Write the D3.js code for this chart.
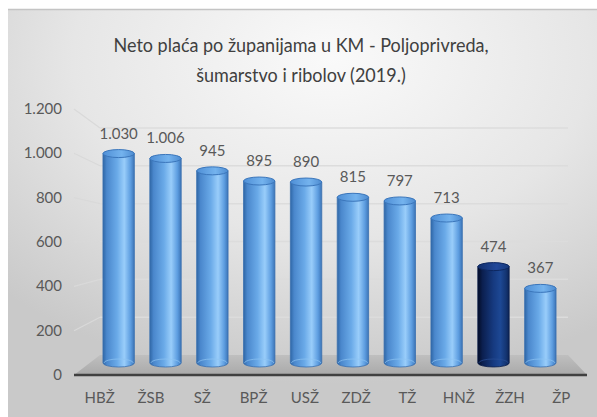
<!DOCTYPE html>
<html>
<head>
<meta charset="utf-8">
<script src="https://cdn.jsdelivr.net/npm/d3@7"></script>
<style>
  html, body { margin: 0; padding: 0; background: #ffffff; }
  svg { display: block; }
  text { font-family: Lato, "Liberation Sans", sans-serif; fill: #595959; }
</style>
</head>
<body>
<svg id="chart" width="597" height="417"></svg>
<script>
// Neto plaća po županijama (KM), 2019.
const categories = ["HBŽ", "ŽSB", "SŽ", "BPŽ", "USŽ", "ZDŽ", "TŽ", "HNŽ", "ŽZH", "ŽP"];
const values = [1030, 1006, 945, 895, 890, 815, 797, 713, 474, 367];
const tickValues = [0, 200, 400, 600, 800, 1000, 1200];
const highlighted = "ŽZH";
const titleLines = ["Neto plaća po županijama u KM - Poljoprivreda,", "šumarstvo i ribolov (2019.)"];

const W = 597, H = 417;
const svg = d3.select("#chart");
const defs = svg.append("defs");

const fmt = d3.formatLocale({ decimal: ",", thousands: ".", grouping: [3], currency: ["", ""] }).format(",d");

// Panel background
const bg = defs.append("radialGradient").attr("id", "bg")
  .attr("cx", "0.55").attr("cy", "0.12").attr("r", "0.8");
bg.append("stop").attr("offset", "0").attr("stop-color", "#fafafa");
bg.append("stop").attr("offset", "0.55").attr("stop-color", "#e6e6e6");
bg.append("stop").attr("offset", "1").attr("stop-color", "#c9c9c9");

svg.append("rect").attr("width", W).attr("height", H).attr("fill", "#ffffff");
svg.append("rect").attr("x", 8).attr("y", 9).attr("width", W - 8).attr("height", H - 9)
  .attr("fill", "url(#bg)");
svg.append("line").attr("x1", 8).attr("x2", W).attr("y1", 9.5).attr("y2", 9.5)
  .attr("stroke", "#c4c4c4").attr("stroke-width", 1.5);

// 3D frame: front plane, back wall and the plane the cylinders stand in
const maxV = 1200;
const front = { x0: 74, x1: 587 };
const back = { x0: 100, x1: 568 };
const yFront = d3.scaleLinear().domain([0, maxV]).range([375, 109]);
const yBack = d3.scaleLinear().domain([0, maxV]).range([355, 128]);
const yBar = d3.scaleLinear().domain([0, maxV]).range([363, 119]);

const xFront = d3.scaleBand().domain(categories).range([front.x0, front.x1]);
const xBar = d3.scaleBand().domain(categories).range([95, 564]).paddingInner(0.33).paddingOuter(0.17);

// Side wall and back wall gridlines
const grid = svg.append("g");
grid.selectAll("line.side").data(tickValues.filter(d => d > 0)).join("line")
  .attr("class", "side")
  .attr("x1", front.x0).attr("y1", d => yFront(d))
  .attr("x2", back.x0).attr("y2", d => yBack(d))
  .attr("stroke", "#d9d9d9").attr("stroke-width", 1.2);
grid.selectAll("line.back").data(tickValues.filter(d => d > 0)).join("line")
  .attr("class", "back")
  .attr("x1", back.x0).attr("y1", d => yBack(d))
  .attr("x2", back.x1).attr("y2", d => yBack(d))
  .attr("stroke", "#dcdcdc").attr("stroke-width", 1.5);

// Floor
const floorG = defs.append("linearGradient").attr("id", "floor")
  .attr("x1", 0).attr("y1", 0).attr("x2", 0).attr("y2", 1);
floorG.append("stop").attr("offset", "0").attr("stop-color", "#bfbfbf");
floorG.append("stop").attr("offset", "1").attr("stop-color", "#a9a9a9");
svg.append("polygon")
  .attr("points", [[front.x0, yFront(0)], [front.x1, yFront(0)], [back.x1, yBack(0)], [back.x0, yBack(0)]].join(" "))
  .attr("fill", "url(#floor)");

// Cylinder shading
function cylGrad(id, stops) {
  const g = defs.append("linearGradient").attr("id", id)
    .attr("x1", 0).attr("y1", 0).attr("x2", 1).attr("y2", 0);
  stops.forEach(([o, c]) => g.append("stop").attr("offset", o).attr("stop-color", c));
}
cylGrad("cylBlue", [[0, "#2f67a6"], [0.12, "#4a87cc"], [0.45, "#6aaae8"], [0.68, "#99cdfa"], [0.88, "#5d9de0"], [1, "#3c74b6"]]);
cylGrad("cylNavy", [[0, "#030c26"], [0.15, "#0b1f4f"], [0.5, "#163a80"], [0.72, "#1d4894"], [0.9, "#143572"], [1, "#0c2354"]]);
cylGrad("capBlue", [[0, "#4f8fd6"], [0.6, "#74b3ee"], [1, "#4d8bd0"]]);
cylGrad("capNavy", [[0, "#122f6c"], [0.6, "#21489a"], [1, "#163a7c"]]);

const bars = categories.map((c, i) => ({ cat: c, value: values[i] }));
const rx = xBar.bandwidth() / 2, ry = 4;

const cyl = svg.append("g").selectAll("g").data(bars).join("g");
cyl.append("path")
  .attr("d", d => {
    const cx = xBar(d.cat) + rx, top = yBar(d.value), base = yBar(0);
    return `M${cx - rx},${top} L${cx - rx},${base} A${rx},${ry} 0 0 0 ${cx + rx},${base} L${cx + rx},${top} Z`;
  })
  .attr("fill", d => d.cat === highlighted ? "url(#cylNavy)" : "url(#cylBlue)")
  .attr("stroke", d => d.cat === highlighted ? "#0a1d4a" : "#3a70b0")
  .attr("stroke-width", 0.8);
// back rim of the base, seen through the glassy body
cyl.append("path")
  .attr("d", d => {
    const cx = xBar(d.cat) + rx, base = yBar(0);
    return `M${cx - rx + 1},${base} A${rx - 1},${ry} 0 0 1 ${cx + rx - 1},${base}`;
  })
  .attr("fill", "none")
  .attr("stroke", d => d.cat === highlighted ? "#2a4f96" : "#8fc4f2")
  .attr("stroke-opacity", 0.7).attr("stroke-width", 1);
cyl.append("ellipse")
  .attr("cx", d => xBar(d.cat) + rx).attr("cy", d => yBar(d.value))
  .attr("rx", rx).attr("ry", ry)
  .attr("fill", d => d.cat === highlighted ? "url(#capNavy)" : "url(#capBlue)")
  .attr("stroke", d => d.cat === highlighted ? "#0d2760" : "#3b76bb")
  .attr("stroke-width", 1);

// Value labels
svg.append("g").selectAll("text").data(bars).join("text")
  .attr("x", d => xBar(d.cat) + rx).attr("y", d => yBar(d.value) - 15)
  .attr("text-anchor", "middle").attr("font-size", 15)
  .text(d => fmt(d.value));

// Front axis line
svg.append("line")
  .attr("x1", front.x0).attr("x2", front.x1)
  .attr("y1", yFront(0)).attr("y2", yFront(0))
  .attr("stroke", "#404040").attr("stroke-width", 2.5);

// Value axis labels
svg.append("g").selectAll("text").data(tickValues).join("text")
  .attr("x", 62).attr("y", d => yFront(d) + 5)
  .attr("text-anchor", "end").attr("font-size", 15)
  .text(d => fmt(d));

// Category labels
svg.append("g").selectAll("text").data(categories).join("text")
  .attr("x", d => xFront(d) + xFront.bandwidth() / 2).attr("y", 403)
  .attr("text-anchor", "middle").attr("font-size", 15)
  .text(d => d);

// Title, set slightly condensed
svg.append("g").attr("transform", "translate(301,0) scale(0.9,1)")
  .selectAll("text").data(titleLines).join("text")
  .attr("x", 0).attr("y", (d, i) => 52 + i * 30)
  .attr("text-anchor", "middle").attr("font-size", 20)
  .style("fill", "#404040")
  .text(d => d);
</script>
</body>
</html>
